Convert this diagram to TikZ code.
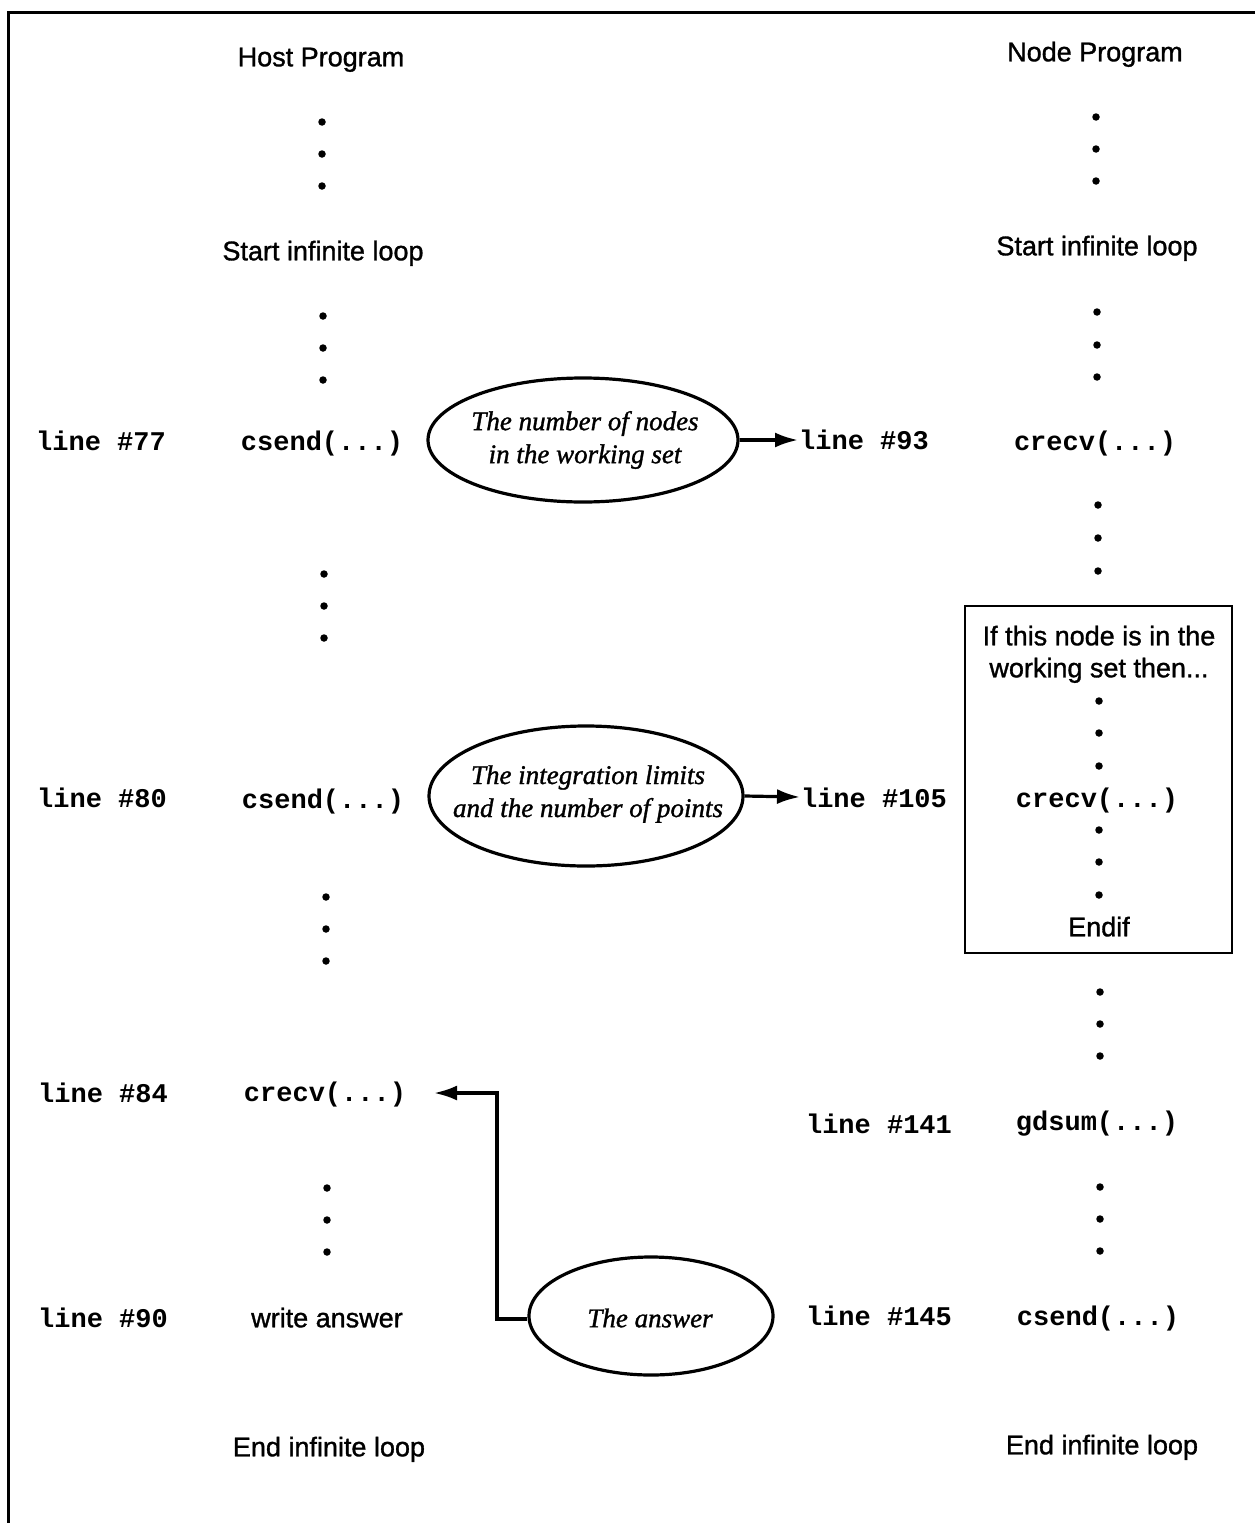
\documentclass[tikz,border=0pt]{standalone}
\usepackage{fontspec}
\setmainfont{Liberation Serif}[FakeBold=1.2]
\setsansfont{Liberation Sans}[FakeBold=1.2]
\setmonofont{Liberation Mono}
\usetikzlibrary{arrows.meta,shapes.geometric}
\begin{document}
\begin{tikzpicture}[x=1pt,y=-1pt,
  lbl/.style={font=\sffamily\fontsize{27}{32}\selectfont, inner sep=0pt, anchor=mid, yshift=-7pt},
  code/.style={font=\ttfamily\bfseries\fontsize{27}{32}\selectfont, inner sep=0pt, anchor=mid, yshift=-7pt},
  dot/.style={circle, fill=black, inner sep=0pt, minimum size=7.5pt},
  oval/.style={ellipse, draw=black, line width=3.2pt, inner sep=0pt},
  msg/.style={inner sep=0pt, align=center,
    font=\rmfamily\itshape\fontsize{27}{33}\selectfont},
  ifbox/.style={draw=black, line width=2.8pt, inner sep=0pt},
  arr/.style={line width=3.2pt, -{Latex[length=23pt,width=15pt]}},
  frame/.style={line width=3pt}
]
\useasboundingbox (0,0) rectangle (1255,1523);
% frame (top and left edges only)
\coordinate (ftl) at (8,12);
\coordinate (ftr) at (1255,12);
\coordinate (fbl) at (8,1523);
\draw[frame] (fbl) -- (ftl) -- (ftr);

% ---------- Host column ----------
\node[lbl] (hostprog) at (321,57) {Host Program};
\foreach \y [count=\i] in {122,154,186} \node[dot] (hda\i) at (322,\y) {};
\node[lbl] (hstart) at (323,251) {Start infinite loop};
\foreach \y [count=\i] in {316,348,380} \node[dot] (hdb\i) at (323,\y) {};
\node[code] (l77) at (101,441) {line \#77};
\node[code] (hsend1) at (322,441) {csend(...)};
\foreach \y [count=\i] in {574,606,638} \node[dot] (hdc\i) at (324,\y) {};
\node[code] (l80) at (102,798) {line \#80};
\node[code] (hsend2) at (323,799) {csend(...)};
\foreach \y [count=\i] in {897,929,961} \node[dot] (hdd\i) at (326,\y) {};
\node[code] (l84) at (103,1093) {line \#84};
\node[code] (hrecv) at (325,1092) {crecv(...)};
\foreach \y [count=\i] in {1188,1220,1252} \node[dot] (hde\i) at (327,\y) {};
\node[code] (l90) at (103,1318) {line \#90};
\node[lbl] (hwrite) at (327,1318) {write answer};
\node[lbl] (hend) at (329,1447) {End infinite loop};

% ---------- Node column ----------
\node[lbl] (nodeprog) at (1095,52) {Node Program};
\foreach \y [count=\i] in {117,149,181} \node[dot] (nda\i) at (1096,\y) {};
\node[lbl] (nstart) at (1097,246) {Start infinite loop};
\foreach \y [count=\i] in {312,345,377} \node[dot] (ndb\i) at (1097,\y) {};
\node[code] (l93) at (864,440) {line \#93};
\node[code] (nrecv1) at (1095,441) {crecv(...)};
\foreach \y [count=\i] in {505,538,571} \node[dot] (ndc\i) at (1098,\y) {};

\node[ifbox, minimum width=267pt, minimum height=347pt] (box) at (1098.5,779.5) {};
\node[lbl] (iftexta) at (1099,636) {If this node is in the};
\node[lbl] (iftextb) at (1099,668) {working set then...};
\foreach \y [count=\i] in {701,733,766} \node[dot] (ndd\i) at (1099,\y) {};
\node[code] (l105) at (874,798) {line \#105};
\node[code] (nrecv2) at (1097,798) {crecv(...)};
\foreach \y [count=\i] in {830,862,895} \node[dot] (nde\i) at (1099,\y) {};
\node[lbl] (endif) at (1099,927) {Endif};

\foreach \y [count=\i] in {992,1024,1056} \node[dot] (ndf\i) at (1100,\y) {};
\node[code] (l141) at (879,1124) {line \#141};
\node[code] (gdsum) at (1097,1121) {gdsum(...)};
\foreach \y [count=\i] in {1187,1219,1251} \node[dot] (ndg\i) at (1100,\y) {};
\node[code] (l145) at (879,1316) {line \#145};
\node[code] (nsend) at (1098,1316) {csend(...)};
\node[lbl] (nend) at (1102,1445) {End infinite loop};

% ---------- Messages ----------
\node[oval, minimum width=310pt, minimum height=124pt] (m1) at (583,440) {};
\node[msg] (m1t) at (585,440) {The number of nodes\\in the working set};
\node[oval, minimum width=314pt, minimum height=140pt] (m2) at (586,796) {};
\node[msg] (m2t) at (588,794) {The integration limits\\and the number of points};
\node[oval, minimum width=244pt, minimum height=118pt] (m3) at (651,1316) {};
\node[msg] (m3t) at (650,1318) {The answer};

\coordinate (a1) at (798,440);
\coordinate (a2) at (800,797);
\draw[arr] (m1.east) -- (a1);
\draw[arr] (m2.east) -- (a2);
\coordinate (bend) at (497,1319);
\coordinate (tip) at (434,1093);
\draw[arr] (m3.west |- bend) -- (bend) |- (tip);
\end{tikzpicture}
\end{document}
